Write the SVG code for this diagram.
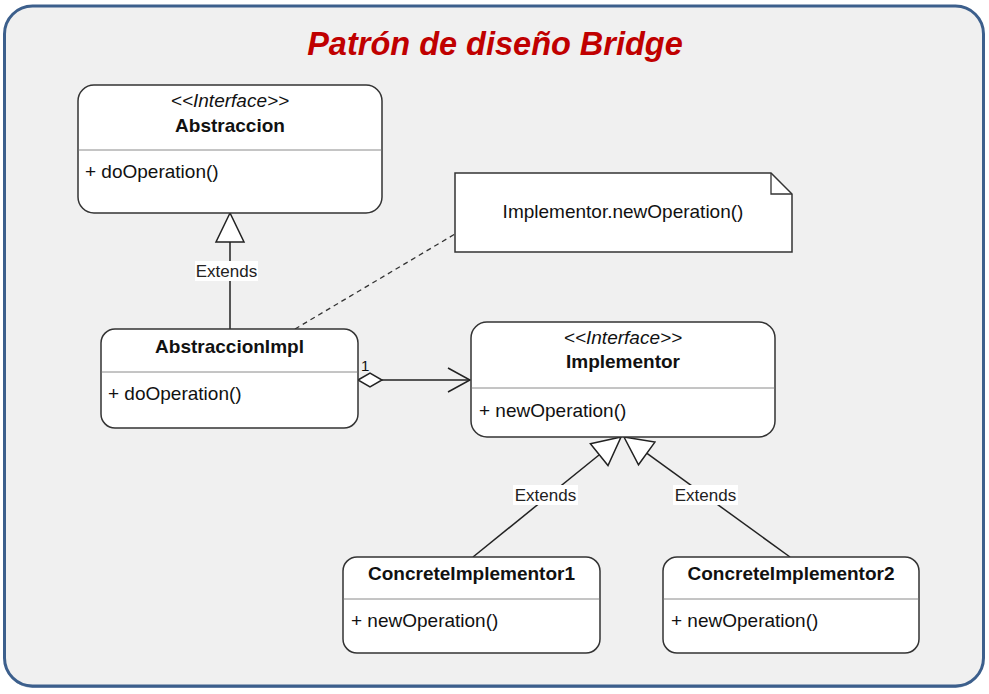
<svg xmlns="http://www.w3.org/2000/svg" width="989" height="694" viewBox="0 0 989 694">
<style>
.box{fill:#ffffff;stroke:#333333;stroke-width:1.5}
.div{stroke:#8a8a8a;stroke-width:1}
.t{font-family:"Liberation Sans",Arial,sans-serif;fill:#111111}
.st{font-size:19px;font-style:italic;text-anchor:middle}
.nm{font-size:19px;font-weight:bold;text-anchor:middle}
.mb{font-size:19px}
.lbl{font-size:17px;text-anchor:middle;fill:#222222}
.ln{stroke:#222222;stroke-width:1.5;fill:none}
.tri{fill:#ffffff;stroke:#222222;stroke-width:1.5}
.lb{fill:#ffffff}
</style>
<rect x="0" y="0" width="989" height="694" fill="#ffffff"/>
<rect x="4.5" y="7" width="979" height="681" rx="28" fill="#3c5f8c" opacity="0.6"/>
<rect x="4.5" y="6" width="979" height="680" rx="28" fill="#f0f0f0" stroke="#3c5f8c" stroke-width="3"/>
<text x="495" y="55" font-family="'Liberation Sans',Arial,sans-serif" font-size="32.5" font-weight="bold" font-style="italic" fill="#c00000" text-anchor="middle">Patrón de diseño Bridge</text>

<g id="connectors">
  <line class="ln" x1="230" y1="242" x2="230" y2="329"/>
  <polygon class="tri" points="230,213 216,242 244,242"/>
  <rect class="lb" x="195" y="261" width="63" height="20"/>
  <text class="t lbl" x="226.5" y="277">Extends</text>

  <line x1="295" y1="329" x2="455" y2="234" stroke="#333333" stroke-width="1.3" stroke-dasharray="5,4"/>

  <polygon points="358,380 370,373 382,380 370,387" fill="#ffffff" stroke="#222222" stroke-width="1.5"/>
  <line class="ln" x1="382" y1="380" x2="470" y2="380"/>
  <polyline class="ln" points="448,368 470,380 448,392"/>
  <text class="t" x="361" y="371" font-size="15">1</text>

  <line class="ln" x1="473" y1="557" x2="599" y2="455"/>
  <polygon class="tri" points="621,437 590.4,443.7 608,465.5"/>
  <rect class="lb" x="513" y="485" width="65" height="20"/>
  <text class="t lbl" x="545.5" y="501">Extends</text>

  <line class="ln" x1="790" y1="557" x2="647" y2="453.4"/>
  <polygon class="tri" points="624,437 654.9,442.1 638.5,464.8"/>
  <rect class="lb" x="673" y="485" width="65" height="20"/>
  <text class="t lbl" x="705.5" y="501">Extends</text>
</g>

<g id="abstraccion">
  <rect class="box" x="78" y="85" width="304" height="128" rx="16"/>
  <line class="div" x1="78.7" y1="150" x2="381.3" y2="150"/>
  <text class="t st" x="230" y="107">&lt;&lt;Interface&gt;&gt;</text>
  <text class="t nm" x="230" y="132">Abstraccion</text>
  <text class="t mb" x="85" y="178">+ doOperation()</text>
</g>

<g id="note">
  <polygon points="455,173 771,173 792,194 792,252 455,252" fill="#ffffff" stroke="#333333" stroke-width="1.5"/>
  <polyline points="771,173 771,194 792,194" fill="none" stroke="#333333" stroke-width="1.3"/>
  <text class="t" x="623" y="218" font-size="19" text-anchor="middle">Implementor.newOperation()</text>
</g>

<g id="abstraccionImpl">
  <rect class="box" x="101" y="329" width="257" height="99" rx="14"/>
  <line class="div" x1="101.7" y1="372" x2="357.3" y2="372"/>
  <text class="t nm" x="229.5" y="353">AbstraccionImpl</text>
  <text class="t mb" x="108" y="400">+ doOperation()</text>
</g>

<g id="implementor">
  <rect class="box" x="471" y="322" width="304" height="115" rx="16"/>
  <line class="div" x1="471.7" y1="388" x2="774.3" y2="388"/>
  <text class="t st" x="623" y="344">&lt;&lt;Interface&gt;&gt;</text>
  <text class="t nm" x="623" y="368">Implementor</text>
  <text class="t mb" x="479" y="417">+ newOperation()</text>
</g>

<g id="concreteImplementor1">
  <rect class="box" x="343" y="557" width="257" height="96" rx="14"/>
  <line class="div" x1="343.7" y1="599" x2="599.3" y2="599"/>
  <text class="t nm" x="471.5" y="580">ConcreteImplementor1</text>
  <text class="t mb" x="351" y="627">+ newOperation()</text>
</g>

<g id="concreteImplementor2">
  <rect class="box" x="663" y="557" width="256" height="96" rx="14"/>
  <line class="div" x1="663.7" y1="599" x2="918.3" y2="599"/>
  <text class="t nm" x="791" y="580">ConcreteImplementor2</text>
  <text class="t mb" x="671" y="627">+ newOperation()</text>
</g>
</svg>
